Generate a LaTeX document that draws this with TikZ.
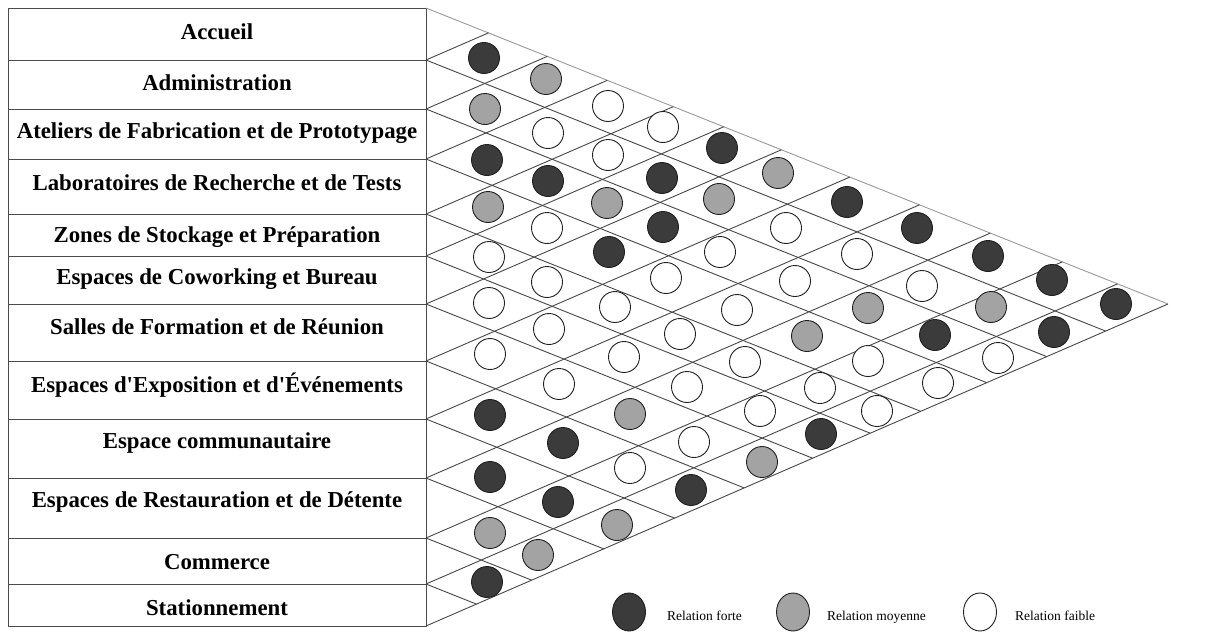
\documentclass[tikz,border=0pt]{standalone}
\usepackage{fontspec}
\setmainfont{Liberation Serif}
\usetikzlibrary{shapes.geometric}
\begin{document}
\begin{tikzpicture}[x=1pt,y=-1pt,
  tabline/.style={draw=black!70, line width=0.9pt},
  gridline/.style={draw=black!72, line width=0.9pt},
  topedge/.style={draw=black!40, line width=0.9pt},
  rel/.style={circle, draw=black!88, line width=0.9pt, minimum size=31pt, inner sep=0pt},
  forte/.style={rel, fill=black!77},
  moyenne/.style={rel, fill=black!36},
  faible/.style={rel, fill=white},
  legmark/.style={ellipse, minimum width=33pt, minimum height=38pt, inner sep=0pt},
  lbl/.style={font=\bfseries\fontsize{22.8}{24}\selectfont, inner sep=0pt},
  legtext/.style={font=\fontsize{13.5}{15}\selectfont, anchor=base west, inner sep=0pt}]
\useasboundingbox (0,0) rectangle (1211,632);
% table
\draw[tabline] (8,8) rectangle (426,626);
\foreach \b in {60,109,159,214,256,304,361,419,478,538,584}
  \draw[tabline] (8,\b) -- (426,\b);
% labels
\foreach \y/\t [count=\i] in {32/Accueil, 83/Administration, 133/Ateliers de Fabrication et de Prototypage,
  183/Laboratoires de Recherche et de Tests, 237/Zones de Stockage et Préparation,
  279/Espaces de Coworking et Bureau, 327/Salles de Formation et de Réunion,
  385/Espaces d\textquotesingle Exposition et d\textquotesingle Événements, 443/Espace communautaire,
  502/Espaces de Restauration et de Détente, 562/Commerce, 608/Stationnement}
  \node[lbl] (r\i) at (217,\y) {\t};
% triangle
\coordinate (T) at (426,8);
\coordinate (B) at (426,626);
\coordinate (A) at (1168,304);
\draw[topedge] (T) -- (A);
\draw[gridline] (B) -- (A);
\foreach \b in {60,109,159,214,256,304,361,419,478,538,584} {
  \draw[gridline] (426,\b) -- ++({(626-\b)/0.8329},{0.3989*(626-\b)/0.8329});
  \draw[gridline] (426,\b) -- ++({(\b-8)/0.8329},{-0.434*(\b-8)/0.8329});
}
% relations
\foreach \x/\y/\s [count=\i] in {
 484/58/forte, 546/79/moyenne, 485/109/moyenne, 608/106/faible, 663/127/faible,
 548/133/faible, 487/160/forte, 608/155/faible, 722/148/forte, 778/173/moyenne,
 548/181/forte, 662/178/forte, 607/203/moyenne, 719/199/moyenne, 488/207/moyenne,
 847/202/forte, 547/228/faible, 663/227/forte, 786/228/faible, 917/228/forte,
 489/257/faible, 609/252/forte, 720/252/faible, 857/254/faible, 988/256/forte,
 547/282/faible, 666/278/faible, 795/281/faible, 922/286/faible, 1052/280/forte,
 489/303/faible, 615/307/faible, 737/310/faible, 868/308/moyenne, 991/307/moyenne,
 1116/304/forte, 549/329/faible, 680/334/faible, 807/336/moyenne, 935/335/forte,
 1054/332/forte, 490/354/faible, 624/357/faible, 745/362/faible, 868/361/faible,
 998/358/faible, 559/384/faible, 687/387/faible, 820/388/faible, 938/383/faible,
 760/411/faible, 877/411/faible, 490/415/forte, 630/414/moyenne, 694/442/faible,
 821/434/forte, 563/443/forte, 630/468/faible, 762/462/moyenne, 490/477/forte,
 558/502/forte, 691/490/forte, 617/525/moyenne, 490/533/moyenne, 538/555/moyenne,
 487/582/forte}
  \node[\s] (c\i) at (\x,\y) {};
% legend
\node[forte, legmark] (lf) at (629,612) {};
\node[legtext] (tf) at (667,620) {Relation forte};
\node[moyenne, legmark] (lm) at (793,612) {};
\node[legtext] (tm) at (827,620) {Relation moyenne};
\node[faible, legmark] (lw) at (980,612) {};
\node[legtext] (tw) at (1015,620) {Relation faible};
\end{tikzpicture}
\end{document}
